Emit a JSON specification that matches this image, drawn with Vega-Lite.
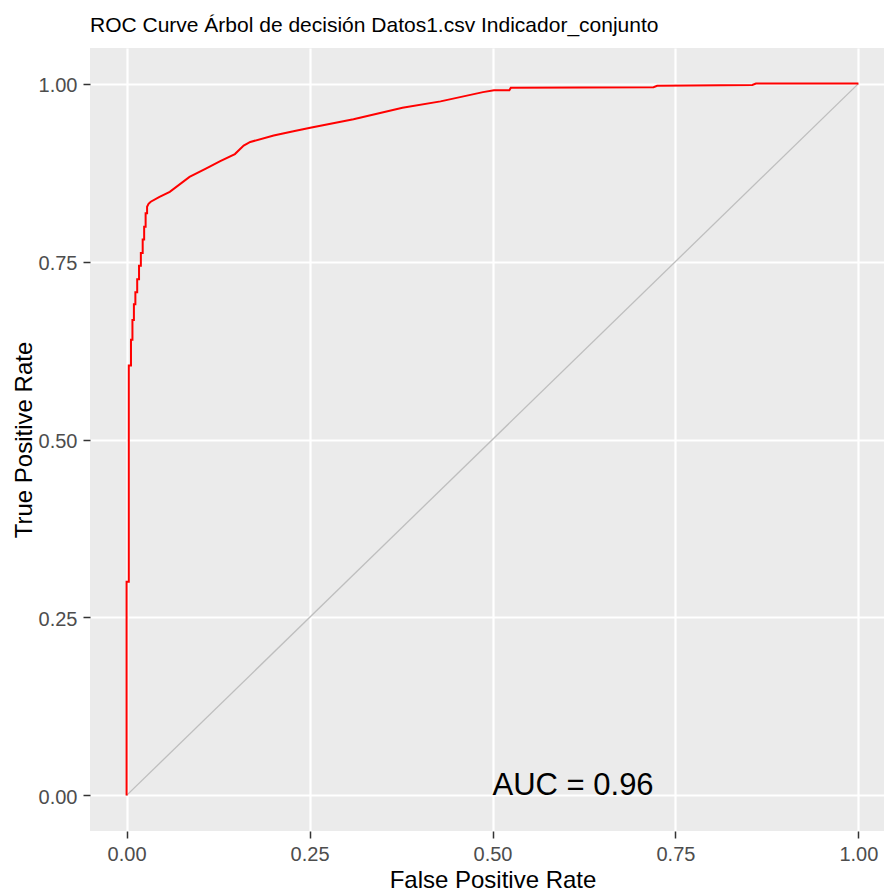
{
  "$schema": "https://vega.github.io/schema/vega-lite/v6.json",
  "width": 805,
  "height": 783,
  "autosize": {"type": "none"},
  "padding": {"left": 90, "top": 48, "right": 0, "bottom": 62},
  "background": "white",
  "title": {
    "text": "ROC Curve Árbol de decisión Datos1.csv Indicador_conjunto",
    "anchor": "start",
    "frame": "group",
    "font": "Liberation Sans",
    "fontSize": 21,
    "fontWeight": "normal",
    "color": "black",
    "baseline": "alphabetic",
    "offset": -5
  },
  "config": {
    "view": {"fill": "#EBEBEB", "stroke": null},
    "axis": {
      "domain": false,
      "labelFont": "Liberation Sans",
      "labelFontSize": 20,
      "labelColor": "#4D4D4D",
      "tickColor": "#333333",
      "tickSize": 7,
      "tickWidth": 1.5,
      "labelPadding": 6,
      "gridColor": "white",
      "gridWidth": 2.2,
      "gridOpacity": 1,
      "titleFont": "Liberation Sans",
      "titleFontSize": 24,
      "titleFontWeight": "normal",
      "titleColor": "black"
    }
  },
  "datasets": {
    "diag": [
      {"x": 0, "y": 0},
      {"x": 1, "y": 1}
    ],
    "roc": [
      {"i": 1, "x": 0.0, "y": 0.0},
      {"i": 2, "x": 0.0, "y": 0.3},
      {"i": 3, "x": 0.003, "y": 0.3},
      {"i": 4, "x": 0.003, "y": 0.604},
      {"i": 5, "x": 0.006, "y": 0.604},
      {"i": 6, "x": 0.006, "y": 0.64},
      {"i": 7, "x": 0.008, "y": 0.64},
      {"i": 8, "x": 0.008, "y": 0.668},
      {"i": 9, "x": 0.01, "y": 0.668},
      {"i": 10, "x": 0.01, "y": 0.69},
      {"i": 11, "x": 0.012, "y": 0.69},
      {"i": 12, "x": 0.012, "y": 0.707},
      {"i": 13, "x": 0.0145, "y": 0.707},
      {"i": 14, "x": 0.0145, "y": 0.725},
      {"i": 15, "x": 0.017, "y": 0.725},
      {"i": 16, "x": 0.017, "y": 0.744},
      {"i": 17, "x": 0.0195, "y": 0.744},
      {"i": 18, "x": 0.0195, "y": 0.762},
      {"i": 19, "x": 0.022, "y": 0.762},
      {"i": 20, "x": 0.022, "y": 0.781},
      {"i": 21, "x": 0.024, "y": 0.781},
      {"i": 22, "x": 0.024, "y": 0.799},
      {"i": 23, "x": 0.026, "y": 0.799},
      {"i": 24, "x": 0.026, "y": 0.818},
      {"i": 25, "x": 0.028, "y": 0.818},
      {"i": 26, "x": 0.028, "y": 0.827},
      {"i": 27, "x": 0.03, "y": 0.831},
      {"i": 28, "x": 0.033, "y": 0.834},
      {"i": 29, "x": 0.045, "y": 0.841},
      {"i": 30, "x": 0.059, "y": 0.848},
      {"i": 31, "x": 0.086, "y": 0.869},
      {"i": 32, "x": 0.109, "y": 0.881},
      {"i": 33, "x": 0.128, "y": 0.891},
      {"i": 34, "x": 0.148, "y": 0.901},
      {"i": 35, "x": 0.16, "y": 0.913},
      {"i": 36, "x": 0.169, "y": 0.918},
      {"i": 37, "x": 0.201, "y": 0.927},
      {"i": 38, "x": 0.228, "y": 0.933},
      {"i": 39, "x": 0.251, "y": 0.938},
      {"i": 40, "x": 0.31, "y": 0.95},
      {"i": 41, "x": 0.377, "y": 0.966},
      {"i": 42, "x": 0.429, "y": 0.975},
      {"i": 43, "x": 0.487, "y": 0.988},
      {"i": 44, "x": 0.502, "y": 0.9906},
      {"i": 45, "x": 0.523, "y": 0.9906},
      {"i": 46, "x": 0.525, "y": 0.994},
      {"i": 47, "x": 0.72, "y": 0.995},
      {"i": 48, "x": 0.725, "y": 0.997},
      {"i": 49, "x": 0.855, "y": 0.998},
      {"i": 50, "x": 0.86, "y": 1.0},
      {"i": 51, "x": 1.0, "y": 1.0}
    ],
    "auc": [
      {"x": 0.5, "y": 0, "label": "AUC = 0.96"}
    ]
  },
  "resolve": {"axis": {"x": "independent", "y": "independent"}},
  "layer": [
    {
      "data": {"name": "diag"},
      "mark": {"type": "line", "color": "#BEBEBE", "strokeWidth": 1.3},
      "encoding": {
        "x": {
          "field": "x", "type": "quantitative",
          "scale": {"domain": [-0.05, 1.05], "nice": false, "zero": false},
          "axis": {
            "orient": "bottom",
            "values": [0, 0.25, 0.5, 0.75, 1],
            "format": ".2f",
            "title": "False Positive Rate",
            "titleBaseline": "alphabetic",
            "titleY": 56,
            "titleX": 402.5,
            "titleAnchor": "middle"
          }
        },
        "y": {
          "field": "y", "type": "quantitative",
          "scale": {"domain": [-0.05, 1.05], "nice": false, "zero": false},
          "axis": {
            "orient": "left",
            "values": [0, 0.25, 0.5, 0.75, 1],
            "format": ".2f",
            "labelOffset": 2,
            "title": "True Positive Rate",
            "titleAngle": -90,
            "titleBaseline": "alphabetic",
            "titleX": -59,
            "titleY": 391.5,
            "titleAnchor": "middle"
          }
        }
      }
    },
    {
      "data": {"name": "roc"},
      "mark": {"type": "line", "color": "#FF0000", "strokeWidth": 2},
      "encoding": {
        "x": {
          "field": "x", "type": "quantitative",
          "axis": {
            "orient": "bottom",
            "values": [0.125, 0.375, 0.625, 0.875],
            "labels": false,
            "ticks": false,
            "domain": false,
            "title": null,
            "gridWidth": 1.1
          }
        },
        "y": {
          "field": "y", "type": "quantitative",
          "axis": {
            "orient": "left",
            "values": [0.125, 0.375, 0.625, 0.875],
            "labels": false,
            "ticks": false,
            "domain": false,
            "title": null,
            "gridWidth": 1.1
          }
        },
        "order": {"field": "i", "type": "quantitative"}
      }
    },
    {
      "data": {"name": "auc"},
      "mark": {"type": "text", "align": "left", "baseline": "alphabetic", "font": "Liberation Sans", "fontSize": 31, "color": "black"},
      "encoding": {
        "x": {"field": "x", "type": "quantitative", "axis": null},
        "y": {"field": "y", "type": "quantitative", "axis": null},
        "text": {"field": "label"}
      }
    }
  ]
}
